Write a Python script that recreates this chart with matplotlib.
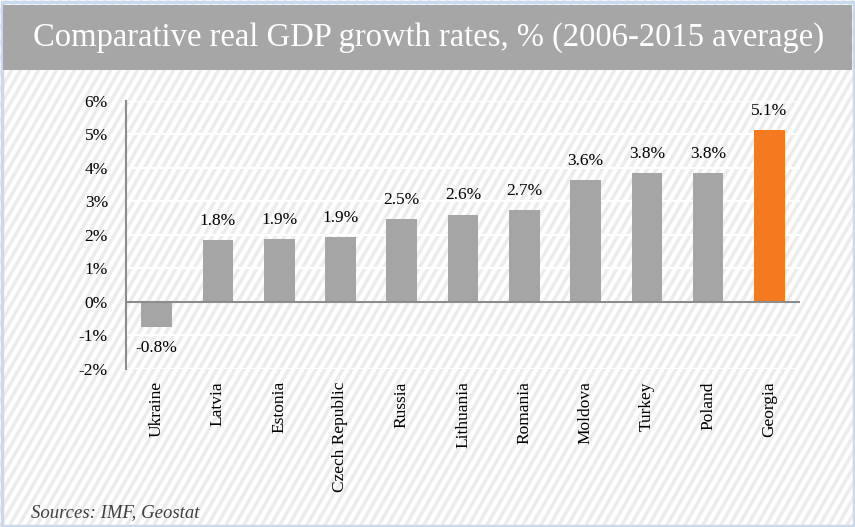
import matplotlib
matplotlib.use("Agg")
import matplotlib.pyplot as plt
import numpy as np
from matplotlib.patches import Rectangle

categories = ["Ukraine", "Latvia", "Estonia", "Czech Republic", "Russia", "Lithuania",
              "Romania", "Moldova", "Turkey", "Poland", "Georgia"]
values = [-0.77, 1.84, 1.87, 1.93, 2.48, 2.60, 2.74, 3.62, 3.83, 3.83, 5.12]
labels = ["-0.8%", "1.8%", "1.9%", "1.9%", "2.5%", "2.6%", "2.7%", "3.6%", "3.8%", "3.8%", "5.1%"]
yticks = [-2, -1, 0, 1, 2, 3, 4, 5, 6]
ytick_labels = ["-2%", "-1%", "0%", "1%", "2%", "3%", "4%", "5%", "6%"]
title = "Comparative real GDP growth rates, % (2006-2015 average)"
source = "Sources: IMF, Geostat"

W, H = 855, 527
fig = plt.figure(figsize=(W / 100, H / 100), dpi=100)
fig.patch.set_facecolor("white")
serif = ["Liberation Serif", "DejaVu Serif"]

# background stripes
bg = fig.add_axes([0, 0, 1, 1], zorder=0)
bg.set_xlim(0, W)
bg.set_ylim(0, H)
bg.axis("off")
ang = np.deg2rad(60)
dx = H / np.tan(ang)
for x0 in np.arange(-dx - 20, W + 20, 9):
    bg.plot([x0, x0 + dx], [0, H], color="#ececec", lw=2.5, solid_capstyle="butt", zorder=1)
# blue border
bg.add_patch(Rectangle((1.5, 1.5), W - 3, H - 3, fill=False, ec="#c9d9ee", lw=2.5, zorder=5))
# title bar
bg.add_patch(Rectangle((3, H - 70), W - 6, 65, fc="#a6a6a6", ec="none", zorder=6))
bg.text(W / 2 + 1, H - 37.5, title, ha="center", va="center", color="white",
        fontsize=23.5, family=serif, zorder=7)
bg.text(31, 10, source, ha="left", va="baseline", color="#404040",
        fontsize=13.5, family=serif, style="italic", zorder=7)

ax = fig.add_axes([126 / W, 1 - 368.7 / H, (800 - 126) / W, (368.7 - 100.7) / H], zorder=1)
ax.patch.set_alpha(0)
x = np.arange(len(categories))
colors = ["#a5a5a5"] * (len(categories) - 1) + ["#f47a20"]
for yv in yticks:
    ax.axhline(yv, color="white", lw=1.6, zorder=0.5)
ax.bar(x, values, width=0.5, color=colors, zorder=2)
ax.axhline(0, color="#8c8c8c", lw=1.5, zorder=3)
ax.set_xlim(-0.5, len(categories) - 0.5)
ax.set_ylim(-2, 6)
ax.set_yticks(yticks)
ax.set_yticklabels(ytick_labels, family=serif, fontsize=12.5)
ax.set_xticks(x)
ax.set_xticklabels(categories, rotation=90, family=serif, fontsize=12.5, va="top")
ax.tick_params(axis="both", length=0)
ax.tick_params(axis="x", pad=9)
ax.tick_params(axis="y", pad=13)
for s in ["top", "right", "bottom"]:
    ax.spines[s].set_visible(False)
ax.spines["left"].set_color("#8c8c8c")
ax.spines["left"].set_linewidth(1.5)

for xi, v, lab in zip(x, values, labels):
    if v >= 0:
        ax.annotate(lab, (xi, v), xytext=(0, 8), textcoords="offset points",
                    ha="center", va="bottom", family=serif, fontsize=12.5)
    else:
        ax.annotate(lab, (xi, v), xytext=(0, -9), textcoords="offset points",
                    ha="center", va="top", family=serif, fontsize=12.5)

fig.savefig("out.png", dpi=100)
